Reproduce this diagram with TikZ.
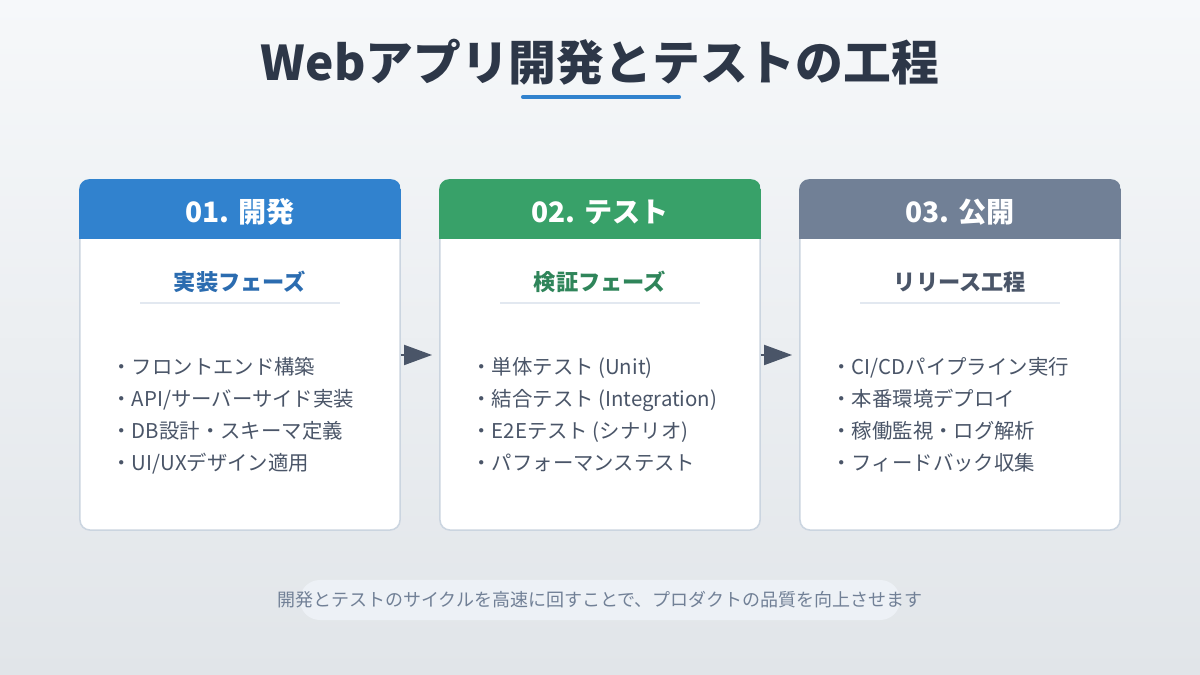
\documentclass[tikz,border=0pt]{standalone}
\usepackage{fontspec}
\setmainfont{Noto Sans CJK JP}
\usepackage{tikz}
\usetikzlibrary{arrows.meta,calc,positioning}

\definecolor{bgtop}{HTML}{F6F8FA}
\definecolor{bgbot}{HTML}{E1E5E9}
\definecolor{titleink}{HTML}{2D3748}
\definecolor{accent}{HTML}{3182CE}
\definecolor{devhead}{HTML}{3182CE}
\definecolor{testhead}{HTML}{38A169}
\definecolor{relhead}{HTML}{718096}
\definecolor{devsub}{HTML}{2B6CB0}
\definecolor{testsub}{HTML}{2F855A}
\definecolor{relsub}{HTML}{4A5568}
\definecolor{itemink}{HTML}{4A5568}
\definecolor{cardline}{HTML}{CBD5E0}
\definecolor{subline}{HTML}{E2E8F0}
\definecolor{footink}{HTML}{718096}
\definecolor{footfill}{HTML}{EDF1F6}

\tikzset{
  card/.style={draw=cardline, line width=1.1pt, fill=white, rounded corners=7.1pt,
    minimum width=8cm, minimum height=8.75cm, inner sep=0pt},
  headtext/.style={text=white, font=\fontsize{20}{24}\selectfont\bfseries},
  subtext/.style={font=\fontsize{15.8}{19}\selectfont\bfseries},
  subrule/.style={draw=subline, line width=1.4pt},
  item/.style={anchor=base west, inner sep=0pt, text=itemink,
    font=\fontsize{14.5}{17}\selectfont},
  flowarrow/.style={-{Triangle[length=20pt, width=14pt]}, draw=itemink, fill=itemink,
    line width=2.1pt, shorten >=5pt},
}

\begin{document}
\begin{tikzpicture}[x=0.025cm, y=0.025cm]

% ---- Background ----
\shade[top color=bgtop, bottom color=bgbot] (0,0) rectangle (1200,675);
\useasboundingbox (0,0) rectangle (1200,675);

% ---- Title ----
\node[text=titleink, font=\fontsize{34}{40}\selectfont\bfseries] (title) at (600,613)
  {Webアプリ開発とテストの工程};
\draw[accent, line width=2.9pt, line cap=round]
  ($(title.center)+(-77,-35)$) -- ($(title.center)+(79,-35)$);

% ---- Cards ----
\node[card] (dev) at (240,320) {};
\node[card] (test) at (600,320) {};
\node[card] (rel) at (960,320) {};

% header bands, clipped to the rounded card outline
\begin{scope}
  \clip[rounded corners=7.1pt] (dev.north west) rectangle (dev.south east);
  \fill[devhead] (dev.north west) rectangle ($(dev.north east)+(0,-60)$);
\end{scope}
\begin{scope}
  \clip[rounded corners=7.1pt] (test.north west) rectangle (test.south east);
  \fill[testhead] (test.north west) rectangle ($(test.north east)+(0,-60)$);
\end{scope}
\begin{scope}
  \clip[rounded corners=7.1pt] (rel.north west) rectangle (rel.south east);
  \fill[relhead] (rel.north west) rectangle ($(rel.north east)+(0,-60)$);
\end{scope}

\node[headtext] (devtitle) at ($(dev.north)+(0,-33)$) {01. 開発};
\node[headtext] (testtitle) at ($(test.north)+(0,-33)$) {02. テスト};
\node[headtext] (reltitle) at ($(rel.north)+(0,-33)$) {03. 公開};

% phase labels with thin rules
\node[subtext, text=devsub] (devphase) at ($(dev.north)+(0,-103)$) {実装フェーズ};
\node[subtext, text=testsub] (testphase) at ($(test.north)+(0,-103)$) {検証フェーズ};
\node[subtext, text=relsub] (relphase) at ($(rel.north)+(0,-103)$) {リリース工程};
\draw[subrule] ($(dev.north)+(-100,-124)$) -- ($(dev.north)+(100,-124)$);
\draw[subrule] ($(test.north)+(-100,-124)$) -- ($(test.north)+(100,-124)$);
\draw[subrule] ($(rel.north)+(-100,-124)$) -- ($(rel.north)+(100,-124)$);

% task lists
\node[item] (dev1) at ($(dev.north west)+(32,-195)$) {・フロントエンド構築};
\node[item] (dev2) at ($(dev.north west)+(32,-227)$) {・API/サーバーサイド実装};
\node[item] (dev3) at ($(dev.north west)+(32,-259)$) {・DB設計・スキーマ定義};
\node[item] (dev4) at ($(dev.north west)+(32,-291)$) {・UI/UXデザイン適用};

\node[item] (test1) at ($(test.north west)+(32,-195)$) {・単体テスト (Unit)};
\node[item] (test2) at ($(test.north west)+(32,-227)$) {・結合テスト (Integration)};
\node[item] (test3) at ($(test.north west)+(32,-259)$) {・E2Eテスト (シナリオ)};
\node[item] (test4) at ($(test.north west)+(32,-291)$) {・パフォーマンステスト};

\node[item] (rel1) at ($(rel.north west)+(32,-195)$) {・CI/CDパイプライン実行};
\node[item] (rel2) at ($(rel.north west)+(32,-227)$) {・本番環境デプロイ};
\node[item] (rel3) at ($(rel.north west)+(32,-259)$) {・稼働監視・ログ解析};
\node[item] (rel4) at ($(rel.north west)+(32,-291)$) {・フィードバック収集};

% ---- Flow arrows ----
\draw[flowarrow] (dev.east) -- (test.west);
\draw[flowarrow] (test.east) -- (rel.west);

% ---- Footer note ----
\node[fill=footfill, rounded corners=14.2pt, minimum width=15cm, minimum height=1cm]
  (footpill) at (600,75) {};
\node[text=footink, font=\fontsize{12.8}{15}\selectfont] (footnote) at (footpill)
  {開発とテストのサイクルを高速に回すことで、プロダクトの品質を向上させます};

\end{tikzpicture}
\end{document}
